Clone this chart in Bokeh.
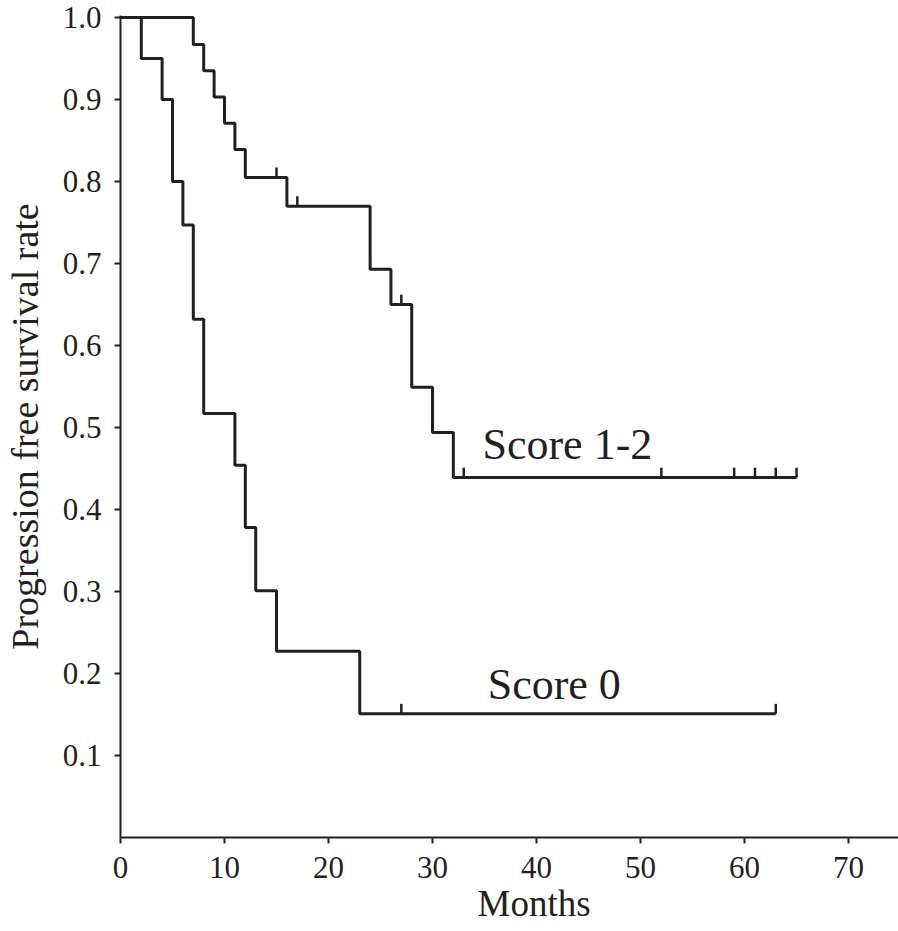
from bokeh.plotting import figure
from bokeh.models import Range1d, FixedTicker, PrintfTickFormatter, Label, Title
from bokeh.embed import file_html
from bokeh.resources import INLINE

# ---- data ----
s0_times = [0, 2, 4, 5, 6, 7, 8, 11, 12, 13, 15, 23, 63]
s0_surv = [1.0, 0.95, 0.90, 0.80, 0.747, 0.632, 0.517, 0.454, 0.378, 0.301, 0.227, 0.151, 0.151]
s0_censor = [27, 63]

s12_times = [0, 7, 8, 9, 10, 11, 12, 16, 24, 26, 28, 30, 32, 65]
s12_surv = [1.0, 0.967, 0.935, 0.903, 0.871, 0.839, 0.805, 0.770, 0.693, 0.650, 0.549, 0.494, 0.439, 0.439]
s12_censor = [15, 17, 27, 33, 52, 59, 61, 63, 65]

x_ticks = [0, 10, 20, 30, 40, 50, 60, 70]
y_ticks = [0.1, 0.2, 0.3, 0.4, 0.5, 0.6, 0.7, 0.8, 0.9, 1.0]

INK = "#231f20"
FONT = "Liberation Serif"

p = figure(width=898, height=930, output_backend="svg", toolbar_location=None,
           x_range=Range1d(0, 74.8), y_range=Range1d(0, 1.0025),
           min_border_left=118, min_border_right=0, min_border_top=15,
           min_border_bottom=93)
p.outline_line_color = None
p.xgrid.visible = False
p.ygrid.visible = False
p.background_fill_color = "white"

# axes
for ax in (p.xaxis[0], p.yaxis[0]):
    ax.axis_line_color = INK
    ax.axis_line_width = 2
    ax.major_tick_line_color = INK
    ax.major_tick_line_width = 2
    ax.major_tick_in = 0
    ax.major_tick_out = 6
    ax.minor_tick_line_color = None
    ax.major_label_text_font = FONT
    ax.major_label_text_font_size = "31px"
    ax.major_label_text_color = INK

p.xaxis.ticker = FixedTicker(ticks=x_ticks)
p.xaxis.major_label_standoff = 13

p.yaxis.ticker = FixedTicker(ticks=y_ticks)
p.yaxis.formatter = PrintfTickFormatter(format="%.1f")
p.yaxis.major_label_standoff = 13
p.yaxis.axis_label = "Progression free survival rate"
p.yaxis.axis_label_text_font = FONT
p.yaxis.axis_label_text_font_size = "38px"
p.yaxis.axis_label_text_font_style = "normal"
p.yaxis.axis_label_text_color = INK
p.yaxis.axis_label_standoff = 14

# x axis title, shifted right like the reference
p.add_layout(Title(text="Months", align="left", offset=357, standoff=0,
                   text_font=FONT, text_font_size="37px",
                   text_font_style="normal", text_color=INK), "below")

# survival curves
p.step(s0_times, s0_surv, mode="after", line_color=INK, line_width=3)
p.step(s12_times, s12_surv, mode="after", line_color=INK, line_width=3)


def level_at(times, surv, t):
    v = surv[0]
    for ti, si in zip(times, surv):
        if ti <= t:
            v = si
    return v


tick_h = 0.012
c0_y = [level_at(s0_times, s0_surv, t) for t in s0_censor]
c12_y = [level_at(s12_times, s12_surv, t) for t in s12_censor]
p.segment(x0=s0_censor, y0=c0_y, x1=s0_censor, y1=[v + tick_h for v in c0_y],
          line_color=INK, line_width=2.5)
p.segment(x0=s12_censor, y0=c12_y, x1=s12_censor, y1=[v + tick_h for v in c12_y],
          line_color=INK, line_width=2.5)

# curve labels
p.add_layout(Label(x=34.8, y=0.479, text="Score 1-2", text_font=FONT,
                   text_font_size="44px", text_color=INK,
                   text_baseline="alphabetic", text_align="left"))
p.add_layout(Label(x=35.3, y=0.186, text="Score 0", text_font=FONT,
                   text_font_size="44px", text_color=INK,
                   text_baseline="alphabetic", text_align="left"))

open("out.html", "w").write(file_html(p, INLINE))
